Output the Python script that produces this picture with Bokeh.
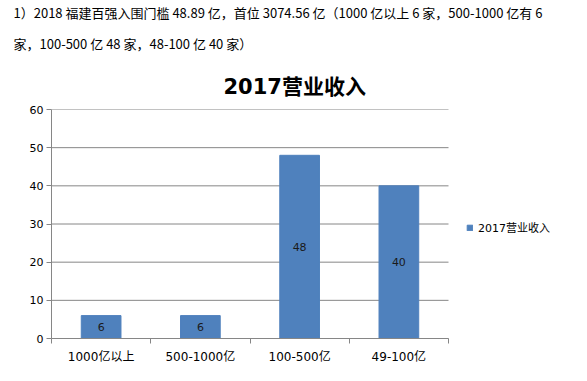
from bokeh.plotting import figure
from bokeh.models import (ColumnDataSource, Range1d, FixedTicker, LinearAxis, Title,
                          LabelSet, Legend, LegendItem)
from bokeh.core.properties import value
from bokeh.embed import file_html
from bokeh.resources import INLINE

# ---- data ----
categories = ["1000亿以上", "500-1000亿", "100-500亿", "49-100亿"]
revenue_counts = [6, 6, 48, 40]
series_name = "2017营业收入"
y_ticks = [0, 10, 20, 30, 40, 50, 60]
header_line1 = "1）2018 福建百强入围门槛 48.89 亿，首位 3074.56 亿（1000 亿以上 6 家，500-1000 亿有 6"
header_line2 = "家，100-500 亿 48 家，48-100 亿 40 家）"

BAR = "#4F81BD"
GRID = "#868686"
CJK = "DejaVu Sans, Noto Sans CJK SC"

n = len(categories)
centers = [i + 0.5 for i in range(n)]
bounds = list(range(n + 1))
src = ColumnDataSource(dict(
    x=centers,
    val=revenue_counts,
    mid=[v / 2 for v in revenue_counts],
    txt=[str(v) for v in revenue_counts],
))

# frame spans plot area plus the legend area on the right
PLOT_W, FRAME_W = 397, 522
p = figure(width=587, height=381, x_range=Range1d(0, n * FRAME_W / PLOT_W), y_range=Range1d(0, 60),
           x_axis_location=None, output_backend="svg", toolbar_location=None,
           min_border_left=51, min_border_right=14, min_border_top=108, min_border_bottom=43)
p.outline_line_color = None
p.background_fill_color = "white"
p.border_fill_color = "white"

# titles (closest to the frame first)
p.add_layout(Title(text=series_name, align="left", offset=172, text_font=CJK,
                   text_font_style="bold", text_font_size="21px", text_color="#000000",
                   standoff=22), "above")
p.add_layout(Title(text=header_line2, align="left", offset=-38, text_font="Noto Sans CJK SC",
                   text_font_style="normal", text_font_size="13px", text_color="#000000",
                   standoff=18), "above")
p.add_layout(Title(text=header_line1, align="left", offset=-38, text_font="Noto Sans CJK SC",
                   text_font_style="normal", text_font_size="13px", text_color="#000000",
                   standoff=1), "above")

# y axis
ya = p.yaxis[0]
ya.ticker = FixedTicker(ticks=y_ticks)
ya.axis_line_color = GRID
ya.major_tick_line_color = GRID
ya.major_tick_out = 5
ya.major_tick_in = 0
ya.minor_tick_line_color = None
ya.major_label_standoff = 3
ya.major_label_text_font = "DejaVu Sans"
ya.major_label_text_font_size = "11px"
ya.major_label_text_color = "#000000"

p.ygrid.grid_line_color = None
p.xgrid.grid_line_color = None

# horizontal gridlines across the plot area only
p.segment(x0=[0] * len(y_ticks), y0=y_ticks, x1=[n] * len(y_ticks), y1=y_ticks,
          line_color=GRID, line_width=1)

# x axis: labels at category centres, tick marks at category boundaries
xa = LinearAxis(ticker=FixedTicker(ticks=centers, minor_ticks=bounds), bounds=(0, n),
                major_label_overrides={c: lab for c, lab in zip(centers, categories)})
xa.axis_line_color = GRID
xa.major_tick_line_color = None
xa.major_tick_out = 5
xa.major_tick_in = 0
xa.minor_tick_line_color = GRID
xa.minor_tick_out = 5
xa.minor_tick_in = 0
xa.major_label_standoff = 6
xa.major_label_text_font = CJK
xa.major_label_text_font_size = "12px"
xa.major_label_text_color = "#000000"
p.add_layout(xa, "below")

bars = p.vbar(x="x", top="val", width=0.4, source=src, fill_color=BAR, line_color=BAR)

p.add_layout(LabelSet(x="x", y="mid", text="txt", source=src, text_align="center",
                      text_baseline="middle", text_font=value("DejaVu Sans"),
                      text_font_size="11px", text_color="#1a1a1a"))

legend = Legend(items=[LegendItem(label=series_name, renderers=[bars])], location=(415, 103),
                padding=0, margin=0, border_line_color=None, background_fill_alpha=0,
                glyph_width=7, glyph_height=7, label_standoff=5,
                label_text_font=CJK, label_text_font_size="11px",
                label_text_color="#000000")
p.add_layout(legend, "center")

open("out.html", "w").write(file_html(p, INLINE))
